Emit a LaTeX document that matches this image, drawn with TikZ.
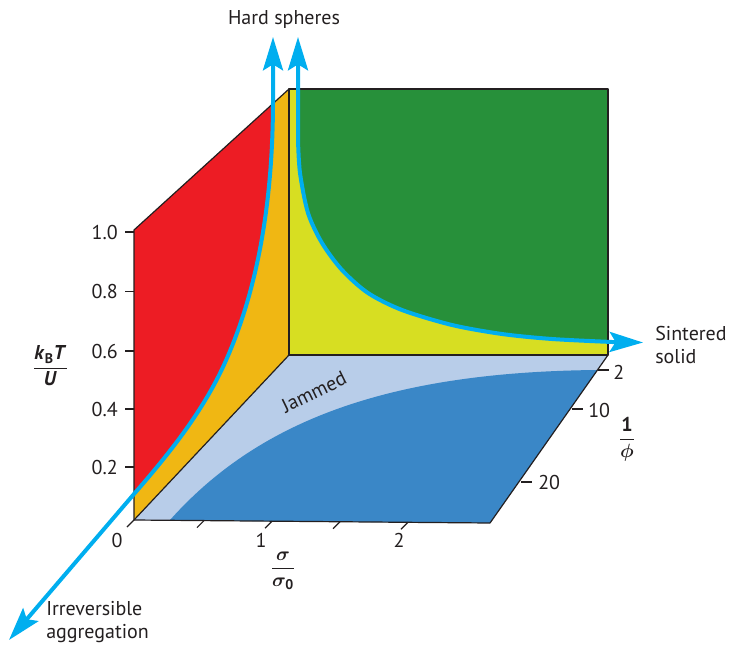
\documentclass[tikz,border=0pt]{standalone}
\usepackage{amsmath}
\usepackage{bm}
\usepackage{fontspec}
\setmainfont{PT Sans}
\usetikzlibrary{arrows.meta,positioning}
\definecolor{phRed}{HTML}{ED1C24}
\definecolor{phOrange}{HTML}{F0B713}
\definecolor{phYellow}{HTML}{D7DE22}
\definecolor{phGreen}{HTML}{27903A}
\definecolor{phLight}{HTML}{B8CDE9}
\definecolor{phDark}{HTML}{3A87C7}
\definecolor{flowCyan}{HTML}{00AEEF}
\definecolor{inkGray}{HTML}{231F20}
\tikzset{
  wallline/.style={draw=inkGray, line width=0.9pt, line join=round},
  tickline/.style={draw=inkGray, line width=0.9pt},
  flow/.style={draw=flowCyan, line width=3pt,
               >={Stealth[length=25pt,width=15pt,inset=4.5pt]}, <->},
  lbl/.style={font=\fontsize{15}{17}\selectfont, text=inkGray, inner sep=0pt},
  fraclbl/.style={lbl, font=\fontsize{15}{17}\selectfont}
}

\begin{document}
\begin{tikzpicture}[x=0.75pt, y=-0.75pt]
\useasboundingbox (0,0) rectangle (730,645);
% corners of the box
\coordinate (ftop) at (134,230);
\coordinate (fbot) at (134,520);
\coordinate (btop) at (289,89);
\coordinate (bbot) at (289,355);
\coordinate (rtop) at (608,89);
\coordinate (rbot) at (608,355);
\coordinate (fright) at (490,523);
% ends of the two paths
\coordinate (aggr) at (9,640);
\coordinate (hsL) at (273,37);
\coordinate (hsR) at (298,37);
\coordinate (sinter) at (643,342.5);
\coordinate (bend) at (223,367);

% floor
\fill[phLight] (fbot) -- (bbot) -- (rbot) -- (fright) -- cycle;
\begin{scope}
  \clip (fbot) -- (bbot) -- (rbot) -- (fright) -- cycle;
  \fill[phDark] (160,530) -- (170,520) .. controls (255,425) and (380,372)
    .. (597,370) -- (620,369) -- (620,540) -- (150,540) -- cycle;
\end{scope}

% side wall
\begin{scope}
  \clip (ftop) -- (btop) -- (bbot) -- (fbot) -- cycle;
  \fill[phOrange] (100,60) rectangle (300,560);
  \fill[phRed] (aggr) -- (134,494) .. controls (168,455) and (201,414)
    .. (bend) .. controls (261,285) and (273,190) .. (273,100)
    -- (hsL) -- (0,37) -- (0,640) -- cycle;
\end{scope}

% back wall
\fill[phGreen] (btop) rectangle (rbot);
\begin{scope}
  \clip (btop) rectangle (rbot);
  \fill[phYellow] (280,37) -- (hsR) -- plot[smooth] coordinates {(298,140)
    (300,173) (308,213) (322,243) (342,270) (368,293) (402,310) (452,325)
    (502,334) (552,339) (612,342)} -- (sinter) -- (650,370) -- (280,370)
    -- cycle;
\end{scope}

% outlines
\draw[wallline] (fbot) -- (ftop) -- (btop);
\draw[wallline] (fbot) -- (bbot);
\draw[wallline] (btop) rectangle (rbot);
\draw[wallline] (fbot) -- (fright) -- (rbot);

% k_B T / U axis
\foreach \v/\y [count=\i] in {1.0/232,0.8/291.5,0.6/351,0.4/409,0.2/467}{
  \draw[tickline] (125,\y) -- (134,\y);
  \node[lbl, anchor=east] (kt\i) at (118,\y) {\v};
}
% sigma axis
\foreach \x/\y in {134/520,204/520.6,272/521.2,340/521.7,408/522.3}
  \draw[tickline] (\x,\y) -- ++(-7,7);
\node[lbl] (s0) at (117,540) {0};
\node[lbl] (s1) at (261,540) {1};
\node[lbl] (s2) at (399,540) {2};
% 1/phi axis
\draw[tickline] (598,370) -- ++(11,0);
\draw[tickline] (572,409) -- ++(11,0);
\draw[tickline] (521,482) -- ++(11,0);
\node[lbl, anchor=west] (p2) at (613,372) {2};
\node[lbl, anchor=west] (p10) at (588,410) {10};
\node[lbl, anchor=west] (p20) at (538,482) {20};

% axis titles
\node[fraclbl] (kbt) at (50.5,366) {$\dfrac{\textbf{\textit{k}}_{\textbf{B}}\textbf{\textit{T}}}{\textbf{\textit{U}}}$};
\node[fraclbl] (sig) at (283,571) {$\dfrac{\bm{\sigma}}{\bm{\sigma}_{\textbf{0}}}$};
\node[fraclbl] (phi) at (627,439) {$\dfrac{\textbf{1}}{\bm{\phi}}$};
\node[lbl, rotate=26] (jam) at (314,392) {Jammed};

% the two paths
\draw[flow] (aggr) -- (134,494) .. controls (168,455) and (201,414)
  .. (bend) .. controls (261,285) and (273,190) .. (273,100) -- (hsL);
\draw[flow] (hsR) -- plot[smooth] coordinates {(298,140) (300,173)
  (308,213) (322,243) (342,270) (368,293) (402,310) (452,325) (502,334)
  (552,339) (612,342)} -- (sinter);

\node[lbl] (hard) at (284,20) {Hard spheres};
\node[lbl, align=left, anchor=west] (sint) at (655,345) {Sintered\\solid};
\node[lbl, align=left, anchor=west] (irr) at (46,622) {Irreversible\\aggregation};
\end{tikzpicture}
\end{document}
